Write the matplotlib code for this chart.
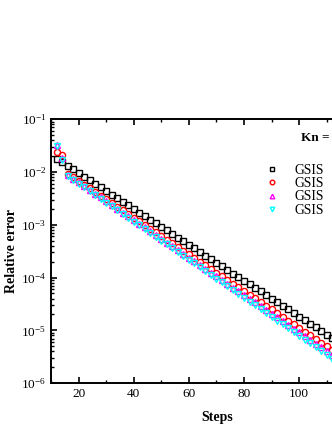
import numpy as np
import matplotlib
matplotlib.use("Agg")
import matplotlib.pyplot as plt
from matplotlib.ticker import LogLocator, MultipleLocator, NullFormatter

plt.rcParams["font.family"] = ["Liberation Serif", "DejaVu Serif"]
plt.rcParams["mathtext.fontset"] = "custom"
plt.rcParams["mathtext.rm"] = "Liberation Serif"

# iteration steps (every 2nd step shown)
steps = list(range(12, 116, 2))

# relative error for each scheme
err_black = [1.79e-2, 1.53e-2, 1.31e-2, 1.12e-2, 9.55e-3, 8.16e-3, 6.98e-3, 5.97e-3,
             5.10e-3, 4.36e-3, 3.73e-3, 3.19e-3, 2.73e-3, 2.33e-3, 1.99e-3, 1.70e-3,
             1.46e-3, 1.25e-3, 1.07e-3, 9.12e-4, 7.80e-4, 6.67e-4, 5.70e-4, 4.87e-4,
             4.17e-4, 3.56e-4, 3.05e-4, 2.60e-4, 2.23e-4, 1.90e-4, 1.63e-4, 1.39e-4,
             1.19e-4, 1.02e-4, 8.71e-5, 7.45e-5, 6.37e-5, 5.44e-5, 4.65e-5, 3.98e-5,
             3.40e-5, 2.91e-5, 2.49e-5, 2.13e-5, 1.82e-5, 1.55e-5, 1.33e-5, 1.14e-5,
             9.72e-6, 8.31e-6, 7.11e-6, 6.08e-6]
err_red = [2.40e-2, 2.10e-2, 9.31e-3, 7.94e-3, 6.76e-3, 5.76e-3, 4.91e-3, 4.18e-3,
           3.56e-3, 3.04e-3, 2.59e-3, 2.20e-3, 1.88e-3, 1.60e-3, 1.36e-3, 1.16e-3,
           9.89e-4, 8.43e-4, 7.18e-4, 6.12e-4, 5.21e-4, 4.44e-4, 3.78e-4, 3.22e-4,
           2.75e-4, 2.34e-4, 1.99e-4, 1.70e-4, 1.45e-4, 1.23e-4, 1.05e-4, 8.95e-5,
           7.63e-5, 6.50e-5, 5.54e-5, 4.71e-5, 4.01e-5, 3.42e-5, 2.91e-5, 2.48e-5,
           2.11e-5, 1.80e-5, 1.53e-5, 1.31e-5, 1.12e-5, 9.50e-6, 8.09e-6, 6.89e-6,
           5.87e-6, 5.00e-6, 4.26e-6, 3.63e-6]
err_magenta = [3.30e-2, 1.80e-2, 8.75e-3, 7.43e-3, 6.31e-3, 5.36e-3, 4.55e-3, 3.86e-3,
               3.28e-3, 2.78e-3, 2.36e-3, 2.01e-3, 1.70e-3, 1.45e-3, 1.23e-3, 1.04e-3,
               8.86e-4, 7.52e-4, 6.39e-4, 5.42e-4, 4.60e-4, 3.91e-4, 3.32e-4, 2.82e-4,
               2.39e-4, 2.03e-4, 1.72e-4, 1.46e-4, 1.24e-4, 1.05e-4, 8.95e-5, 7.60e-5,
               6.45e-5, 5.48e-5, 4.65e-5, 3.97e-5, 3.37e-5, 2.86e-5, 2.43e-5, 2.06e-5,
               1.75e-5, 1.49e-5, 1.26e-5, 1.07e-5, 9.12e-6, 7.74e-6, 6.57e-6, 5.58e-6,
               4.74e-6, 4.02e-6, 3.41e-6, 2.90e-6]
err_cyan = [3.10e-2, 1.70e-2, 8.39e-3, 7.11e-3, 6.03e-3, 5.11e-3, 4.33e-3, 3.66e-3,
            3.10e-3, 2.63e-3, 2.23e-3, 1.89e-3, 1.60e-3, 1.35e-3, 1.15e-3, 9.72e-4,
            8.23e-4, 6.97e-4, 5.91e-4, 5.00e-4, 4.24e-4, 3.59e-4, 3.04e-4, 2.57e-4,
            2.18e-4, 1.85e-4, 1.56e-4, 1.32e-4, 1.12e-4, 9.51e-5, 8.05e-5, 6.82e-5,
            5.78e-5, 4.89e-5, 4.14e-5, 3.51e-5, 2.97e-5, 2.52e-5, 2.13e-5, 1.81e-5,
            1.53e-5, 1.30e-5, 1.10e-5, 9.30e-6, 7.88e-6, 6.67e-6, 5.65e-6, 4.79e-6,
            4.05e-6, 3.43e-6, 2.91e-6, 2.46e-6]

labels = ["GSIS", "GSIS", "GSIS", "GSIS"]
x_ticks = [20, 40, 60, 80, 100]

fig = plt.figure(figsize=(3.32, 4.30), dpi=100)
# axes runs past the right edge of the figure (cropped like the reference)
ax = fig.add_axes([0.154, 0.109, 1.0, 0.614])

ax.plot(steps, err_black, "s", ms=4.4, mfc="none", mec="black", mew=1.0, label=labels[0])
ax.plot(steps, err_red, "o", ms=4.4, mfc="none", mec="red", mew=1.0, label=labels[1])
ax.plot(steps, err_magenta, "^", ms=4.4, mfc="none", mec="#FF00FF", mew=1.0, label=labels[2])
ax.plot(steps, err_cyan, "v", ms=4.4, mfc="none", mec="#00FFFF", mew=1.0, label=labels[3])

ax.set_yscale("log")
ax.set_ylim(1e-6, 1e-1)
ax.set_xlim(10, 130.5)
ax.set_xticks(x_ticks)
ax.xaxis.set_minor_locator(MultipleLocator(10))
ax.yaxis.set_major_locator(LogLocator(base=10, numticks=10))
ax.yaxis.set_minor_locator(LogLocator(base=10, subs=np.arange(2, 10), numticks=20))
ax.yaxis.set_minor_formatter(NullFormatter())

ax.tick_params(which="both", direction="in", top=True, right=False, labelsize=9.5)
ax.tick_params(which="major", length=4, width=1.2)
ax.tick_params(which="minor", length=2, width=1.0)
for s in ax.spines.values():
    s.set_linewidth(1.4)

ax.set_xlabel("Steps", fontsize=10, fontweight="bold", labelpad=8)
ax.set_ylabel("Relative error", fontsize=10, fontweight="bold", labelpad=2)

fig.text(301 / 332, 1 - 138 / 430, "Kn =", fontsize=9.5, fontweight="bold", va="center")
ax.legend(loc="upper left", bbox_to_anchor=(255 / 332, 1 - 157 / 430),
          bbox_transform=fig.transFigure, frameon=False, fontsize=9.8,
          numpoints=1, markerscale=0.75, handlelength=1.5, handletextpad=0.9,
          labelspacing=0.02, borderpad=0)

fig.savefig("out.png", dpi=100)
